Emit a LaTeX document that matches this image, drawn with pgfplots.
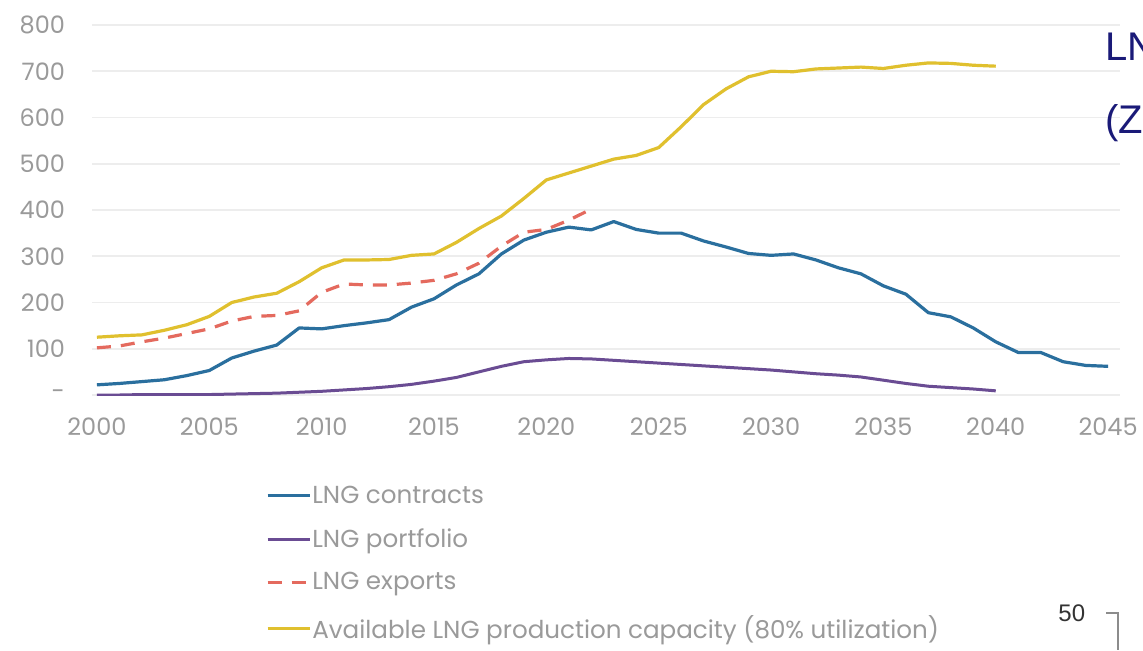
\documentclass[border=0pt]{standalone}
\usepackage{pgfplots}
\pgfplotsset{compat=1.18}
\usepackage{pgfplotstable}
\usepackage{fontspec}
\setmainfont{Poppins}
\newfontfamily\arialfont{Liberation Sans}
\definecolor{cblue}{HTML}{2A6F9E}
\definecolor{cpurple}{HTML}{6A4C93}
\definecolor{cred}{HTML}{E46A5E}
\definecolor{cyellow}{HTML}{E0C02E}
\definecolor{cnavy}{HTML}{1A1A78}
\definecolor{ctext}{HTML}{9A9A9A}

\pgfplotstableread{
year val
2000 22
2001 25
2002 29
2003 33
2004 42
2005 53
2006 80
2007 95
2008 108
2009 145
2010 143
2011 150
2012 156
2013 163
2014 190
2015 208
2016 238
2017 262
2018 305
2019 335
2020 352
2021 363
2022 357
2023 375
2024 358
2025 350
2026 350
2027 333
2028 320
2029 306
2030 302
2031 305
2032 292
2033 275
2034 262
2035 236
2036 218
2037 178
2038 169
2039 145
2040 115
2041 92
2042 92
2043 72
2044 64
2045 62
}\contracts

\pgfplotstableread{
year val
2000 0
2001 0
2002 1
2003 1
2004 1
2005 1
2006 2
2007 3
2008 4
2009 6
2010 8
2011 11
2012 14
2013 18
2014 23
2015 30
2016 38
2017 50
2018 62
2019 72
2020 76
2021 79
2022 78
2023 75
2024 72
2025 69
2026 66
2027 63
2028 60
2029 57
2030 54
2031 50
2032 46
2033 43
2034 39
2035 32
2036 25
2037 19
2038 16
2039 13
2040 9
}\portfolio

\pgfplotstableread{
year val
2000 102
2001 106
2002 115
2003 123
2004 133
2005 143
2006 160
2007 170
2008 172
2009 182
2010 222
2011 240
2012 238
2013 238
2014 242
2015 248
2016 262
2017 285
2018 322
2019 352
2020 358
2021 378
2022 402
}\exports

\pgfplotstableread{
year val
2000 125
2001 128
2002 130
2003 140
2004 152
2005 170
2006 200
2007 212
2008 220
2009 245
2010 275
2011 292
2012 292
2013 293
2014 302
2015 305
2016 330
2017 360
2018 387
2019 425
2020 465
2021 480
2022 495
2023 510
2024 518
2025 535
2026 580
2027 628
2028 662
2029 688
2030 700
2031 699
2032 705
2033 707
2034 709
2035 706
2036 713
2037 718
2038 717
2039 713
2040 711
}\capacity

\begin{document}
\begin{tikzpicture}[x=0.5pt,y=0.5pt]
\path[use as bounding box, clip] (0,0) rectangle (1143,650);
\fill[white] (0,0) rectangle (1143,650);
\begin{axis}[
  at={(46pt,127.5pt)}, anchor=south west,
  scale only axis, width=514pt, height=185pt,
  xmin=1999.78, xmax=2045.53, ymin=0, ymax=800,
  axis line style={draw=none},
  tick style={draw=none},
  ymajorgrids, major grid style={color=black!7, line width=0.8pt},
  extra y ticks={0}, extra y tick labels={},
  extra y tick style={grid style={color=black!30, line width=0.9pt}},
  xtick={2000,2005,...,2045},
  xticklabels={2000,2005,2010,2015,2020,2025,2030,2035,2040,2045},
  ytick={0,100,...,800},
  yticklabels={{-\hspace{9pt}},100,200,300,400,500,600,700,800},
  ticklabel style={font=\fontsize{12}{14}\selectfont, text=ctext},
  xticklabel style={yshift=-8pt},
  yticklabel style={xshift=-10pt},
  legend style={at={(0.163,-0.23)}, anchor=north west, draw=none, fill=none,
    font=\fontsize{12.3}{14}\selectfont, text=ctext, row sep=10pt,
    nodes={inner sep=0.6pt}},
  legend cell align=left,
  legend image code/.code={\draw[#1] (0pt,0pt) -- (21pt,0pt);},
]
\addplot[cblue, line width=1.6pt, line join=round] table[x=year,y=val]{\contracts};
\addlegendentry{LNG contracts}
\addplot[cpurple, line width=1.5pt, line join=round] table[x=year,y=val]{\portfolio};
\addlegendentry{LNG portfolio}
\addplot[cred, line width=1.6pt, dash pattern=on 7pt off 5pt] table[x=year,y=val]{\exports};
\addlegendentry{LNG exports}
\addplot[cyellow, line width=1.6pt, line join=round] table[x=year,y=val]{\capacity};
\addlegendentry{Available LNG production capacity (80\% utilization)}
\end{axis}
\node[anchor=base west, inner sep=0pt, text=cnavy, font=\arialfont\fontsize{20}{24}\selectfont] at (1105,590) {LN};
\node[anchor=base west, inner sep=0pt, text=cnavy, font=\arialfont\fontsize{20}{24}\selectfont] at (1105,517) {(Z};
\node[anchor=base west, inner sep=0pt, text=black!80, font=\arialfont\fontsize{12}{14}\selectfont] at (1058,29) {50};
\draw[black!45, line width=0.7pt] (1106,37) -- (1118,37) -- (1118,0);
\end{tikzpicture}
\end{document}
